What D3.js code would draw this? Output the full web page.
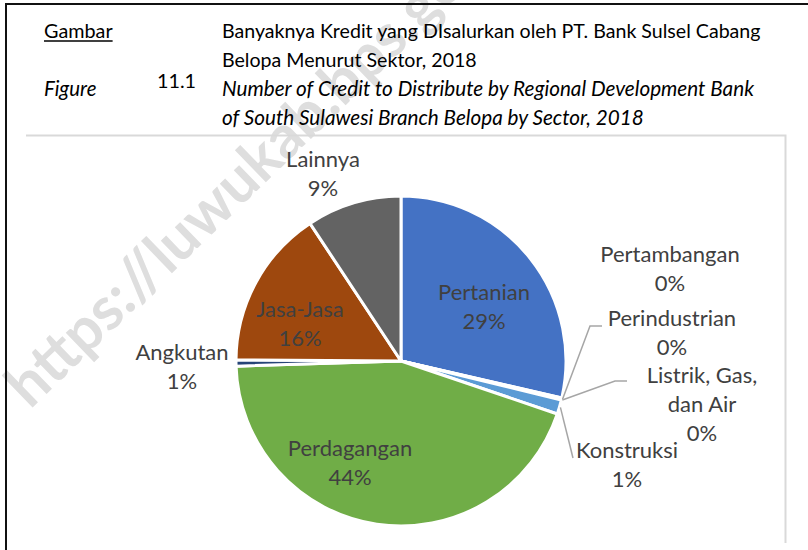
<!DOCTYPE html>
<html>
<head>
<meta charset="utf-8">
<script src="https://cdn.jsdelivr.net/npm/d3@7/dist/d3.min.js"></script>
<style>
  html, body { margin: 0; padding: 0; background: #fff; }
  svg { display: block; }
  text { font-family: Lato, "Open Sans", sans-serif; }
</style>
</head>
<body>
<svg id="chart" width="808" height="550"></svg>
<script>
// ---- data ----
const categories = ["Pertanian", "Pertambangan", "Perindustrian", "Listrik, Gas, dan Air",
                    "Konstruksi", "Perdagangan", "Angkutan", "Jasa-Jasa", "Lainnya"];
const labelLines = [["Pertanian"], ["Pertambangan"], ["Perindustrian"], ["Listrik, Gas,", "dan Air"],
                    ["Konstruksi"], ["Perdagangan"], ["Angkutan"], ["Jasa-Jasa"], ["Lainnya"]];
const shares = [28.6, 0.05, 0.1, 0.05, 1.4, 44.3, 0.6, 15.6, 9.3];
const colors = ["#4472C4", "#ED7D31", "#A5A5A5", "#FFC000", "#5B9BD5",
                "#70AD47", "#264478", "#9E480E", "#636363"];
const titleId = ["Banyaknya Kredit yang DIsalurkan oleh PT. Bank Sulsel Cabang",
                 "Belopa Menurut Sektor, 2018"];
const titleEn = ["Number of Credit to Distribute by Regional Development Bank",
                 "of South Sulawesi Branch Belopa by Sector, 2018"];
const figNumber = "11.1";
const watermark = "https://luwukab.bps.go.id";

// ---- layout ----
const svg = d3.select("#chart");
const cx = 401, cy = 361, r = 165;
const labelColor = "#404040";

// watermark
svg.append("text")
  .attr("transform", "translate(30,410) rotate(-44)")
  .attr("font-family", "'Liberation Sans', Arial, sans-serif")
  .attr("font-weight", "bold")
  .attr("font-size", 60)
  .attr("fill", "#dedede")
  .text(watermark);

// page frame (black)
svg.append("line").attr("x1", 6).attr("x2", 6).attr("y1", 3).attr("y2", 550)
  .attr("stroke", "#111").attr("stroke-width", 2);
svg.append("line").attr("x1", 5).attr("x2", 808).attr("y1", 4).attr("y2", 4)
  .attr("stroke", "#111").attr("stroke-width", 2);

// chart area border (grey)
svg.append("path")
  .attr("d", d3.line()([[26, 135.5], [785.5, 135.5], [785.5, 543]]))
  .attr("fill", "none").attr("stroke", "#D9D9D9").attr("stroke-width", 2);

// header
const hdr = svg.append("g").attr("fill", "#000");
const gam = hdr.append("text").attr("x", 44).attr("y", 38).attr("font-size", 19.8).text("Gambar");
hdr.append("text").attr("x", 44).attr("y", 96).attr("font-size", 20.4).attr("font-style", "italic").text("Figure");
hdr.append("text").attr("x", 157).attr("y", 88).attr("font-size", 19.8).text(figNumber);
const gw = gam.node().getComputedTextLength();
hdr.append("line").attr("x1", 44).attr("x2", 44 + gw).attr("y1", 41).attr("y2", 41)
  .attr("stroke", "#000").attr("stroke-width", 1.5);
const titleLines = titleId.map(t => ({t, it: false})).concat(titleEn.map(t => ({t, it: true})));
hdr.selectAll("text.title").data(titleLines).join("text")
  .attr("class", "title")
  .attr("x", 222)
  .attr("y", (d, i) => 38 + i * 29)
  .attr("font-size", d => d.it ? 20.7 : 19.6)
  .attr("font-style", d => d.it ? "italic" : "normal")
  .text(d => d.t);

// pie
const pie = d3.pie().sort(null).value(d => d)(shares);
const arc = d3.arc().innerRadius(0).outerRadius(r);
const total = d3.sum(shares);
const g = svg.append("g").attr("transform", `translate(${cx},${cy})`);
g.selectAll("path.slice").data(pie).join("path")
  .attr("class", "slice")
  .attr("d", arc)
  .attr("fill", (d, i) => colors[i])
  .attr("stroke", "#fff").attr("stroke-width", 3).attr("stroke-linejoin", "round");

// label placement relative to the pie centre (dx, dy of first baseline)
const labelPos = [
  {dx: 83, dy: -61},    // Pertanian
  {dx: 269, dy: -99},   // Pertambangan
  {dx: 271, dy: -35, knee: [189, -35], end: [201, -35]},   // Perindustrian
  {dx: 301, dy: 22, knee: [214, 20], end: [226, 20]},      // Listrik
  {dx: 226, dy: 97, knee: [172, 97]},                       // Konstruksi
  {dx: -51, dy: 95},    // Perdagangan
  {dx: -219, dy: -1},   // Angkutan
  {dx: -101, dy: -44},  // Jasa-Jasa
  {dx: -78, dy: -194}   // Lainnya
];
const lineH = 29;

// leader lines
pie.forEach((d, i) => {
  const p = labelPos[i];
  if (!p.knee) return;
  const a = (d.startAngle + d.endAngle) / 2;
  const start = [Math.sin(a) * (r + 1), -Math.cos(a) * (r + 1)];
  const pts = [start, p.knee];
  if (p.end) pts.push(p.end);
  g.append("path").attr("d", d3.line()(pts))
    .attr("fill", "none").attr("stroke", "#A6A6A6").attr("stroke-width", 1.5);
});

// labels
pie.forEach((d, i) => {
  const p = labelPos[i];
  const lines = labelLines[i].concat([Math.round(d.data / total * 100) + "%"]);
  const t = g.append("text")
    .attr("text-anchor", "middle")
    .attr("font-size", 22)
    .attr("fill", labelColor);
  lines.forEach((ln, k) => {
    t.append("tspan").attr("x", p.dx).attr("y", p.dy + k * lineH).text(ln);
  });
});
</script>
</body>
</html>
